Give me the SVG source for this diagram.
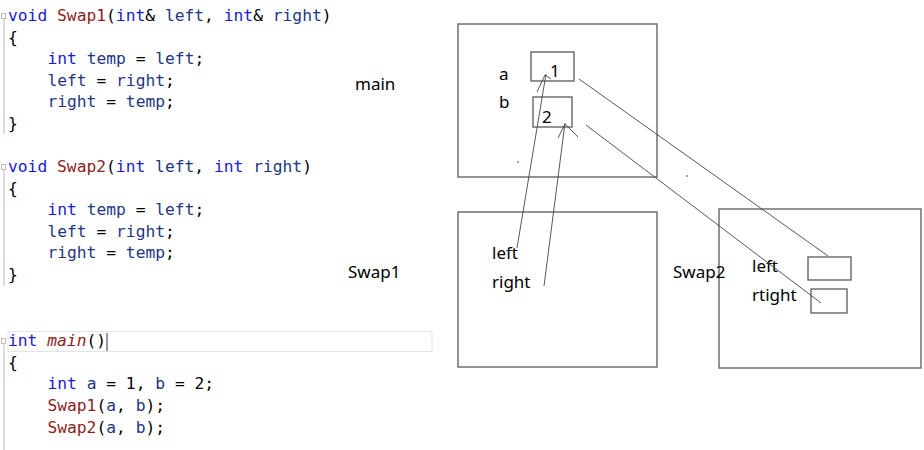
<svg xmlns="http://www.w3.org/2000/svg" width="924" height="450" viewBox="0 0 924 450">
<style>
.code{font-family:"DejaVu Sans Mono","Liberation Mono",monospace;font-size:16.3px;fill:#000;}
.k{fill:#1a1ad6;}
.f{fill:#8f1d1d;}
.v{fill:#1f377f;}
.lbl{font-family:"Noto Sans","Open Sans",sans-serif;font-size:17px;fill:#000;}
.box{fill:none;stroke:#666;stroke-width:1.4;}
.wire{fill:none;stroke:#444;stroke-width:0.9;}
.gut{fill:none;stroke:#bbb;stroke-width:1;}
</style>
<rect width="924" height="450" fill="#fff"/>
<g id="code">
  <rect x="8" y="331.5" width="424" height="20" fill="none" stroke="#e3e3e3" stroke-width="1"/>
  <line x1="107" y1="333" x2="107" y2="351" stroke="#333" stroke-width="1"/>
  <g class="gut">
    <rect x="1.5" y="13.5" width="4" height="5"/><line x1="4" y1="19" x2="4" y2="134"/>
    <rect x="1.5" y="164.5" width="4" height="5"/><line x1="4" y1="170" x2="4" y2="286"/>
    <rect x="1.5" y="338.5" width="4" height="5"/><line x1="4" y1="344" x2="4" y2="450"/>
  </g>
  <text class="code" xml:space="preserve">
    <tspan x="8" y="21"><tspan class="k">void</tspan> <tspan class="f">Swap1</tspan>(<tspan class="k">int</tspan>&amp; <tspan class="v">left</tspan>, <tspan class="k">int</tspan>&amp; <tspan class="v">right</tspan>)</tspan>
    <tspan x="8" y="43">{</tspan>
    <tspan x="47.4" y="64"><tspan class="k">int</tspan> <tspan class="v">temp</tspan> = <tspan class="v">left</tspan>;</tspan>
    <tspan x="47.4" y="86"><tspan class="v">left</tspan> = <tspan class="v">right</tspan>;</tspan>
    <tspan x="47.4" y="107"><tspan class="v">right</tspan> = <tspan class="v">temp</tspan>;</tspan>
    <tspan x="8" y="129">}</tspan>
    <tspan x="8" y="172"><tspan class="k">void</tspan> <tspan class="f">Swap2</tspan>(<tspan class="k">int</tspan> <tspan class="v">left</tspan>, <tspan class="k">int</tspan> <tspan class="v">right</tspan>)</tspan>
    <tspan x="8" y="194">{</tspan>
    <tspan x="47.4" y="215"><tspan class="k">int</tspan> <tspan class="v">temp</tspan> = <tspan class="v">left</tspan>;</tspan>
    <tspan x="47.4" y="237"><tspan class="v">left</tspan> = <tspan class="v">right</tspan>;</tspan>
    <tspan x="47.4" y="258"><tspan class="v">right</tspan> = <tspan class="v">temp</tspan>;</tspan>
    <tspan x="8" y="280">}</tspan>
    <tspan x="8" y="346"><tspan class="k">int</tspan> <tspan class="f" font-style="italic">main</tspan>()</tspan>
    <tspan x="8" y="368">{</tspan>
    <tspan x="47.4" y="389"><tspan class="k">int</tspan> <tspan class="v">a</tspan> = 1, <tspan class="v">b</tspan> = 2;</tspan>
    <tspan x="47.4" y="411"><tspan class="f">Swap1</tspan>(<tspan class="v">a</tspan>, <tspan class="v">b</tspan>);</tspan>
    <tspan x="47.4" y="433"><tspan class="f">Swap2</tspan>(<tspan class="v">a</tspan>, <tspan class="v">b</tspan>);</tspan>
  </text>
</g>
<g id="main">
  <rect class="box" x="458" y="24" width="199" height="153"/>
  <text class="lbl" x="355" y="90">main</text>
  <text class="lbl" x="499" y="80">a</text>
  <text class="lbl" x="499" y="108">b</text>
  <rect class="box" x="531" y="52" width="43" height="29"/>
  <text class="lbl" x="550" y="77">1</text>
  <rect class="box" x="533" y="97" width="39" height="30"/>
  <text class="lbl" x="542" y="123">2</text>
  <circle cx="518" cy="162" r="0.8" fill="#333"/>
</g>
<g id="swap1">
  <rect class="box" x="458" y="212" width="199" height="155"/>
  <text class="lbl" x="348" y="278">Swap1</text>
  <text class="lbl" x="492" y="259">left</text>
  <text class="lbl" x="492" y="288">right</text>
</g>
<g id="swap2">
  <rect class="box" x="719" y="209" width="202" height="159"/>
  <text class="lbl" x="673" y="278">Swap2</text>
  <text class="lbl" x="752" y="272">left</text>
  <text class="lbl" x="752" y="301">rtight</text>
  <rect class="box" x="808" y="257" width="43" height="23"/>
  <rect class="box" x="811" y="289" width="36" height="24"/>
</g>
<circle cx="687" cy="176" r="0.8" fill="#333"/>
<g id="connectors">
  <line class="wire" x1="579" y1="79" x2="828" y2="256"/>
  <line class="wire" x1="586" y1="125" x2="821" y2="303"/>
  <line class="wire" x1="517" y1="248" x2="546" y2="74"/>
  <polyline class="wire" points="537,92 545,75 551,79"/>
  <line class="wire" x1="544" y1="286" x2="565" y2="123"/>
  <polyline class="wire" points="558,138 565,124 578,137"/>
</g>
</svg>
